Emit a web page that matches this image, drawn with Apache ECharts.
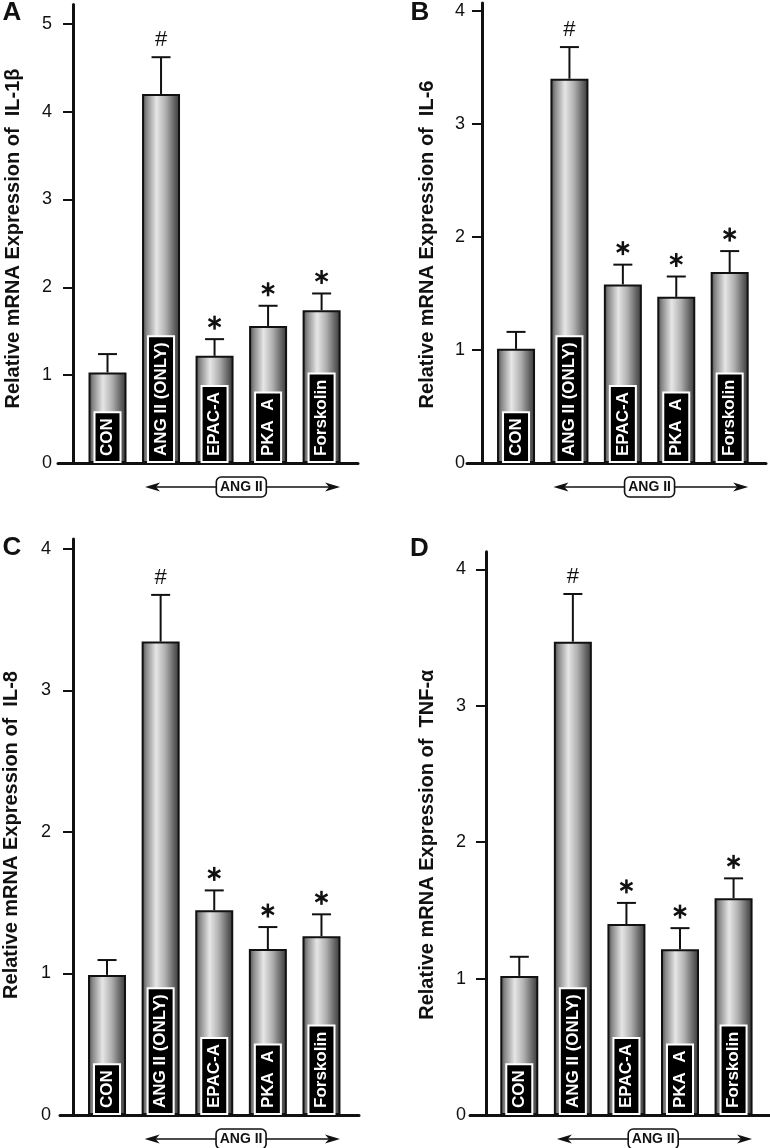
<!DOCTYPE html>
<html><head><meta charset="utf-8">
<script src="https://cdn.jsdelivr.net/npm/echarts@6/dist/echarts.min.js"></script>
<style>html,body{margin:0;padding:0;background:#fff}#c{width:770px;height:1148px}</style>
</head><body><div id="c"></div>
<script>
// ---------- data ----------
const categories = ['CON', 'ANG II (ONLY)', 'EPAC-A', 'PKA  A', 'Forskolin'];
const groupLabel = 'ANG II';
const panelLetters = ['A', 'B', 'C', 'D'];
const yTitles = [
  'Relative mRNA Expression of  IL-1β',
  'Relative mRNA Expression of  IL-6',
  'Relative mRNA Expression of  IL-8',
  'Relative mRNA Expression of  TNF-α'
];
const il1bMean = [1.03, 4.20, 1.22, 1.56, 1.74];
const il1bErr  = [0.21, 0.42, 0.19, 0.23, 0.19];
const il6Mean  = [1.01, 3.40, 1.58, 1.47, 1.69];
const il6Err   = [0.15, 0.28, 0.175, 0.18, 0.185];
const il8Mean  = [0.99, 3.345, 1.447, 1.173, 1.263];
const il8Err   = [0.105, 0.33, 0.14, 0.155, 0.155];
const tnfMean  = [1.02, 3.47, 1.40, 1.215, 1.59];
const tnfErr   = [0.14, 0.35, 0.155, 0.155, 0.145];
const sigMarks = ['', '#', '*', '*', '*'];
const ticksA = [0, 1, 2, 3, 4, 5];
const ticksB = [0, 1, 2, 3, 4];
const ticksC = [0, 1, 2, 3, 4];
const ticksD = [0, 1, 2, 3, 4];
const yMaxes = [5.22, 4.07, 4.07, 4.13];
const groupSpan = [1, 4]; // ANG II groups: from category 1 to 4

// ---------- layout ----------
const FONT = '"Liberation Sans", Arial, Helvetica, sans-serif';
const layout = [
  {left: 58,  top: 4.5,   width: 300, height: 458.5, xMin: -0.925, xMax: 4.68, yOff: -15, margin: 21, title: [13, 238.5],   letter: [2.5, 13]},
  {left: 467, top: 3,     width: 299, height: 460,   xMin: -0.918, xMax: 4.68, yOff: -15, margin: 17, title: [427, 244.5],  letter: [410.5, 12.5]},
  {left: 60,  top: 539,   width: 299, height: 576,   xMin: -0.877, xMax: 4.70, yOff: -13, margin: 22, title: [11, 835],     letter: [2.5, 547.5]},
  {left: 470, top: 551.7, width: 300, height: 563.3, xMin: -0.92,  xMax: 4.68, yOff: -16, margin: 20, title: [427.5, 844.7], letter: [410, 548.7]}
];
const means = [il1bMean, il6Mean, il8Mean, tnfMean];
const errs = [il1bErr, il6Err, il8Err, tnfErr];
const ticks = [ticksA, ticksB, ticksC, ticksD];

const barGradient = {
  type: 'linear', x: 0, y: 0, x2: 1, y2: 0,
  colorStops: [
    {offset: 0, color: '#444'},
    {offset: 0.12, color: '#888'},
    {offset: 0.38, color: '#e6e6e6'},
    {offset: 0.62, color: '#b0b0b0'},
    {offset: 0.88, color: '#5a5a5a'},
    {offset: 1, color: '#363636'}
  ]
};

const grids = [], xAxes = [], yAxes = [], series = [], graphics = [];
layout.forEach((L, k) => {
  grids.push({left: L.left, top: L.top, width: L.width, height: L.height, containLabel: false});
  xAxes.push({
    gridIndex: k, type: 'value', min: L.xMin, max: L.xMax,
    axisLine: {show: true, lineStyle: {color: '#111', width: 3}},
    axisTick: {show: false}, axisLabel: {show: false}, splitLine: {show: false}
  });
  yAxes.push({
    gridIndex: k, type: 'value', min: 0, max: yMaxes[k], offset: L.yOff,
    axisLine: {show: true, onZero: false, lineStyle: {color: '#111', width: 3}},
    axisTick: {show: true, length: 10, customValues: ticks[k], lineStyle: {color: '#111', width: 2}},
    axisLabel: {show: true, customValues: ticks[k], margin: L.margin, fontSize: 18, color: '#111', fontFamily: FONT},
    splitLine: {show: false}
  });
  // bars
  series.push({
    type: 'bar', xAxisIndex: k, yAxisIndex: k, barWidth: 38,
    data: means[k].map((v, i) => [i, v]),
    itemStyle: {color: barGradient, borderColor: '#111', borderWidth: 2},
    label: {
      show: true, position: 'insideBottom', distance: 2, rotate: 90,
      align: 'left', verticalAlign: 'middle',
      formatter: p => categories[p.dataIndex],
      color: '#fff', fontWeight: 'bold', fontSize: 17, fontFamily: FONT,
      backgroundColor: '#000', borderColor: '#fff', borderWidth: 2,
      padding: [3, 5, 3, 5], lineHeight: 18
    },
    silent: true, animation: false
  });
  // error bars + significance marks
  series.push({
    type: 'custom', xAxisIndex: k, yAxisIndex: k, animation: false, silent: true,
    encode: {x: 0, y: [1, 2]},
    data: means[k].map((v, i) => [i, v, v + errs[k][i]]),
    renderItem: (params, api) => {
      const x = api.value(0);
      const p0 = api.coord([x, api.value(1)]);
      const p1 = api.coord([x, api.value(2)]);
      const st = {stroke: '#111', lineWidth: 2};
      const ch = [
        {type: 'line', shape: {x1: p0[0], y1: p0[1], x2: p1[0], y2: p1[1]}, style: st},
        {type: 'line', shape: {x1: p1[0] - 9.5, y1: p1[1], x2: p1[0] + 9.5, y2: p1[1]}, style: st}
      ];
      const m = sigMarks[params.dataIndex];
      if (m === '#') {
        ch.push({type: 'text', style: {text: '#', x: p1[0], y: p1[1] - 17, align: 'center', verticalAlign: 'middle',
          font: '22px ' + FONT, fill: '#111'}});
      } else if (m === '*') {
        const cx = p1[0], cy = p1[1] - 16.5, r = 7;
        [90, 30, 150].forEach(a => {
          const t = a * Math.PI / 180;
          ch.push({type: 'line', shape: {x1: cx - r * Math.cos(t), y1: cy - r * Math.sin(t), x2: cx + r * Math.cos(t), y2: cy + r * Math.sin(t)},
            style: {stroke: '#111', lineWidth: 2.5}});
        });
      }
      return {type: 'group', children: ch};
    }
  });
  // ANG II group arrow below axis
  series.push({
    type: 'custom', xAxisIndex: k, yAxisIndex: k, animation: false, silent: true, clip: false,
    encode: {x: [0, 1], y: 2},
    data: [[groupSpan[0], groupSpan[1], 0]],
    renderItem: (params, api) => {
      const a = api.value(0), b = api.value(1);
      const pL = api.coord([a, 0]), pR = api.coord([b, 0]), pM = api.coord([(a + b) / 2, 0]);
      const y = pL[1] + 24;
      const x1 = pL[0] - 16, x2 = pR[0] + 18.5;
      return {type: 'group', children: [
        {type: 'line', shape: {x1: x1 + 4, y1: y, x2: x2 - 4, y2: y}, style: {stroke: '#111', lineWidth: 1.6}},
        {type: 'polygon', shape: {points: [[x1, y], [x1 + 15, y - 4.5], [x1 + 11, y], [x1 + 15, y + 4.5]]}, style: {fill: '#111'}},
        {type: 'polygon', shape: {points: [[x2, y], [x2 - 15, y - 4.5], [x2 - 11, y], [x2 - 15, y + 4.5]]}, style: {fill: '#111'}},
        {type: 'rect', shape: {x: pM[0] - 25, y: y - 10, width: 50, height: 20, r: 5}, style: {fill: '#fff', stroke: '#111', lineWidth: 1.6}},
        {type: 'text', style: {text: groupLabel, x: pM[0], y: y + 0.5, align: 'center', verticalAlign: 'middle',
          font: 'bold 14px ' + FONT, fill: '#111'}}
      ]};
    }
  });
  // axis title and panel letter
  graphics.push({type: 'text', x: L.title[0], y: L.title[1], rotation: Math.PI / 2, silent: true,
    style: {text: yTitles[k], font: 'bold 20px ' + FONT, fill: '#111', align: 'center', verticalAlign: 'middle'}});
  graphics.push({type: 'text', x: L.letter[0], y: L.letter[1], silent: true,
    style: {text: panelLetters[k], font: 'bold 26px ' + FONT, fill: '#111', align: 'left', verticalAlign: 'middle'}});
});

const chart = echarts.init(document.getElementById('c'), null, {renderer: 'canvas'});
chart.setOption({
  animation: false,
  backgroundColor: '#fff',
  textStyle: {fontFamily: FONT},
  grid: grids, xAxis: xAxes, yAxis: yAxes, series: series, graphic: graphics
});
</script>
</body></html>
